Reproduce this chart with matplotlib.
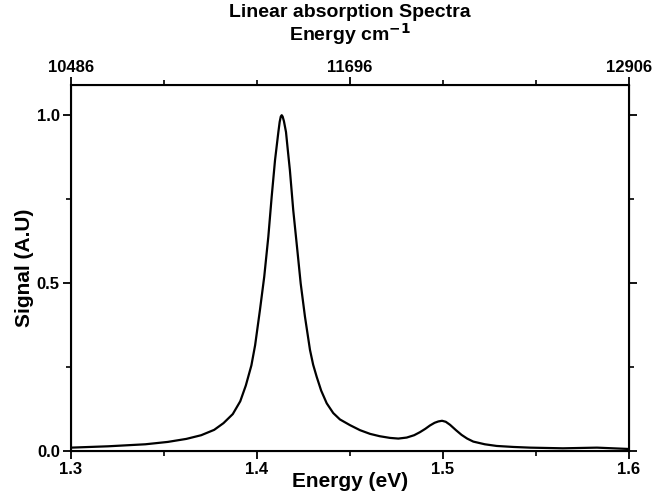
import matplotlib
matplotlib.use("Agg")
from matplotlib import pyplot as plt
from matplotlib.ticker import MultipleLocator

# values
energy_ev = [1.300, 1.320, 1.340, 1.352, 1.362, 1.370, 1.377, 1.382, 1.387, 1.391,
             1.394, 1.397, 1.399, 1.4016, 1.4039, 1.4061, 1.4079, 1.4097, 1.4115, 1.4122,
             1.4128, 1.4133, 1.4138, 1.4145, 1.4156, 1.4166, 1.4177, 1.4195, 1.4217, 1.4235,
             1.4258, 1.4285, 1.4302, 1.4321, 1.4345, 1.4375, 1.4410, 1.4446, 1.450, 1.4554,
             1.4608, 1.466, 1.4715, 1.476, 1.4805, 1.4845, 1.4876, 1.4905, 1.493, 1.4955,
             1.4975, 1.4995, 1.5015, 1.5038, 1.507, 1.510, 1.5130, 1.5163, 1.5225,
             1.5289, 1.5380, 1.5468, 1.5645, 1.5828, 1.600]
signal = [0.010, 0.014, 0.020, 0.027, 0.036, 0.047, 0.063, 0.083, 0.110, 0.148,
          0.195, 0.255, 0.315, 0.420, 0.519, 0.638, 0.757, 0.866, 0.950, 0.980,
          0.996, 1.000, 0.996, 0.982, 0.950, 0.895, 0.836, 0.717, 0.598, 0.499,
          0.400, 0.301, 0.257, 0.221, 0.180, 0.142, 0.113, 0.094, 0.077, 0.062,
          0.051, 0.044, 0.039, 0.037, 0.040, 0.047, 0.056, 0.066, 0.076, 0.084,
          0.088, 0.090, 0.087, 0.078, 0.062, 0.048, 0.037, 0.028, 0.020,
          0.015, 0.012, 0.010, 0.008, 0.010, 0.006]

bottom_ticks = [1.3, 1.4, 1.5, 1.6]
left_ticks = [0.0, 0.5, 1.0]
top_tick_pos = [1.3, 1.45, 1.6]
top_tick_labels = ["10486", "11696", "12906"]

plt.rcParams['font.family'] = ['Liberation Sans', 'DejaVu Sans']
plt.rcParams['font.weight'] = 'bold'

fig = plt.figure(figsize=(6.53, 4.93), dpi=100)
ax = fig.add_axes([0.1087, 0.0852, 0.8545, 0.7424])

ax.plot(energy_ev, signal, color='black', lw=1.6)
ax.set_xlim(1.3, 1.6)
ax.set_ylim(0, 1.09)

ax.set_xticks(bottom_ticks)
ax.set_xticklabels([f"{t:.1f}" for t in bottom_ticks])
ax.xaxis.set_minor_locator(MultipleLocator(0.05))
ax.set_yticks(left_ticks)
ax.set_yticklabels([f"{t:.1f}" for t in left_ticks])
ax.yaxis.set_minor_locator(MultipleLocator(0.25))
ax.tick_params(which='major', direction='out', length=6, width=1.3, labelsize=12, pad=2)
ax.tick_params(which='minor', direction='out', length=3.5, width=1.2)
ax.tick_params(axis='y', which='both', right=True)
for sp in ax.spines.values():
    sp.set_linewidth(1.5)

ax.set_xlabel("Energy (eV)", fontsize=15, fontweight='bold', labelpad=-4)
ax.set_ylabel("Signal (A.U)", fontsize=15, fontweight='bold', labelpad=2)

top = ax.twiny()
top.set_xlim(ax.get_xlim())
top.set_xticks(top_tick_pos)
top.set_xticklabels(top_tick_labels)
top.xaxis.set_minor_locator(MultipleLocator(0.05))
top.tick_params(which='major', direction='out', length=6, width=1.3, labelsize=12, pad=1)
top.tick_params(which='minor', direction='out', length=3.5, width=1.2)
top.set_xlabel("Energy cm$^{\\mathbf{-1}}$", fontsize=14, fontweight='bold', labelpad=14)
top.set_title("Linear absorption Spectra", fontsize=14, fontweight='bold', pad=-2)

fig.savefig("out.png", dpi=100)
